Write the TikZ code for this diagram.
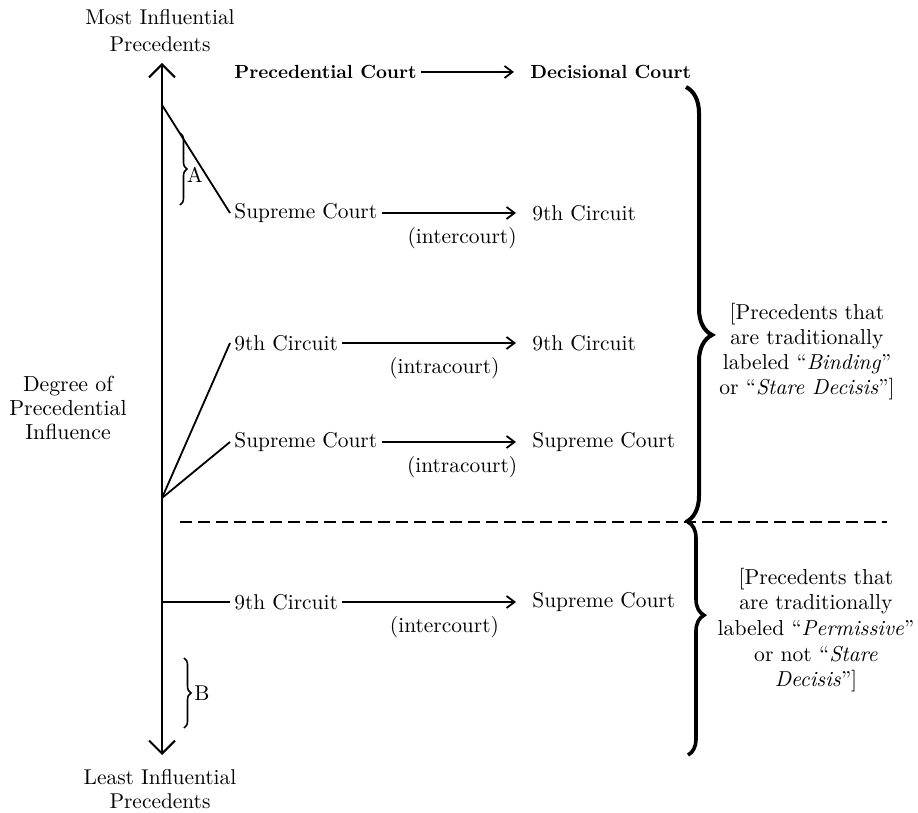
\documentclass[tikz,border=0pt]{standalone}
\usetikzlibrary{arrows.meta,positioning,decorations.pathreplacing}
\begin{document}
\begin{tikzpicture}[x=0.5pt,y=-0.5pt,
    every node/.style={inner sep=2pt,font=\fontsize{10.7}{12.5}\selectfont},
    court/.style={anchor=west},
    head/.style={anchor=west,font=\fontsize{9.5}{11}\selectfont\bfseries},
    kind/.style={below=5pt,pos=0.55},
    flow/.style={-{Straight Barb[length=4pt,width=6pt]},line width=0.9pt,shorten >=6pt},
    link/.style={line width=0.9pt},
    note/.style={align=center,font=\fontsize{10.8}{12.8}\selectfont},
    bigbrace/.style={decorate,decoration={brace,amplitude=#1},line width=2pt},
    smallbrace/.style={decorate,decoration={brace,amplitude=3.5pt},line width=0.8pt}]
  \useasboundingbox (0,0) rectangle (918,813);
  \coordinate (top) at (162,63);
  \coordinate (bottom) at (162,755);
  \coordinate (peak) at (162,105);
  \coordinate (fork) at (162,498);
  \coordinate (low) at (162,602);
  \draw[{Straight Barb[length=6.5pt,width=13pt]}-{Straight Barb[length=6.5pt,width=13pt]},line width=1pt] (bottom) -- (top);
  \node[align=center,font=\fontsize{10.7}{13.5}\selectfont] (most) at (160,31) {Most Influential\\Precedents};
  \node[align=center,font=\fontsize{10.7}{12.3}\selectfont] (least) at (160,789) {Least Influential\\Precedents};
  \node[align=center,font=\fontsize{10.9}{11.8}\selectfont] (degree) at (68,408) {Degree of\\Precedential\\Influence};

  \node[head] (pc) at (230,72) {Precedential Court};
  \node[head] (dc) at (526,72) {Decisional Court};
  \draw[flow] (pc) -- (dc);

  \node[court] (sc1) at (230,213) {Supreme Court};
  \node[court] (nc1) at (528,213) {9th Circuit};
  \draw[flow] (sc1) -- node[kind] {(intercourt)} (nc1);

  \node[court] (nc2) at (230,343) {9th Circuit};
  \node[court] (nc3) at (528,343) {9th Circuit};
  \draw[flow] (nc2) -- node[kind] {(intracourt)} (nc3);

  \node[court] (sc2) at (230,442) {Supreme Court};
  \node[court] (sc3) at (528,442) {Supreme Court};
  \draw[flow] (sc2) -- node[kind] {(intracourt)} (sc3);

  \node[court] (nc4) at (230,602) {9th Circuit};
  \node[court] (sc4) at (528,602) {Supreme Court};
  \draw[flow] (nc4) -- node[kind] {(intercourt)} (sc4);

  \draw[link] (peak) -- (sc1.west);
  \draw[link] (fork) -- (nc2.west);
  \draw[link] (fork) -- (sc2.west);
  \draw[link] (low) -- (nc4.west);

  \coordinate (cut west) at (180,522);
  \coordinate (cut east) at (887,522);
  \draw[line width=1pt,dash pattern=on 6pt off 3pt] (cut west) -- (cut east);

  \draw[smallbrace] (180,133) -- (180,205);
  \node (a) at (195,175) {A};
  \draw[smallbrace] (184,658) -- (184,728);
  \node (b) at (202,693) {B};

  \draw[bigbrace=13pt,decoration={aspect=0.57}] (686,87) -- (686,522);
  \draw[bigbrace=8pt,decoration={aspect=0.4},line width=1.8pt] (688,522) -- (688,755);
  \node[note,font=\fontsize{10.8}{12.5}\selectfont] (binding) at (807,352) {[Precedents that\\are traditionally\\labeled ``\textit{Binding}''\\or ``\textit{Stare Decisis}'']};
  \node[note] (permissive) at (816,630) {[Precedents that\\are traditionally\\labeled ``\textit{Permissive}''\\or not ``\textit{Stare}\\\textit{Decisis}'']};
\end{tikzpicture}
\end{document}
